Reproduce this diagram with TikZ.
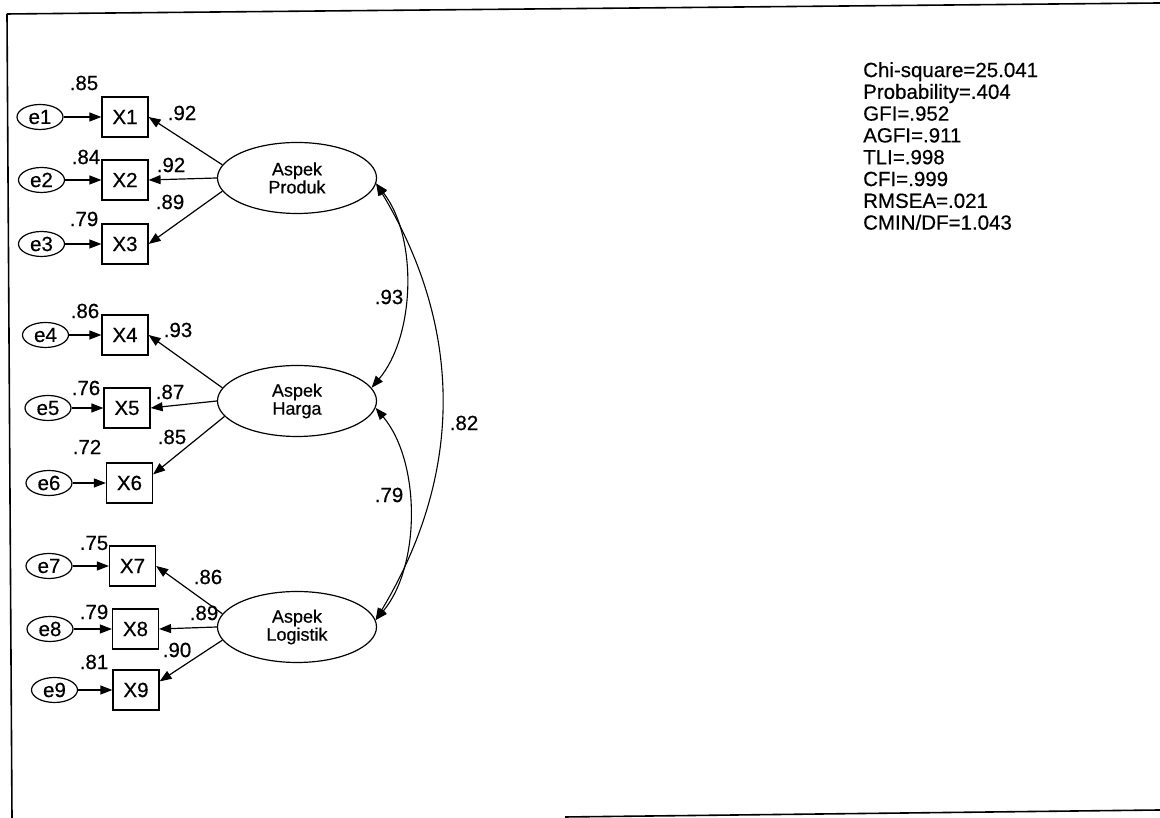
\documentclass[tikz,border=0pt]{standalone}
\usepackage{fontspec}
\setmainfont{Liberation Sans}[FakeBold=0.5]
\usepackage{tikz}
\usetikzlibrary{shapes.geometric,arrows.meta}
\newcommand\lbl{\fontsize{20.5}{21.8}\selectfont}
\newcommand\latfont{\fontsize{18}{18}\selectfont}
\tikzset{
  lat/.style   = {ellipse, draw, line width=1.2pt, minimum width=159pt, minimum height=71pt,
                  inner sep=0pt, align=center, font=\latfont},
  obs/.style   = {rectangle, draw, line width=1.2pt, minimum width=46pt, minimum height=40pt,
                  inner sep=0pt, font=\lbl},
  err/.style   = {ellipse, draw, line width=1.2pt, minimum width=46pt, minimum height=25pt,
                  inner sep=0pt, font=\lbl},
  fl/.style    = {-{Triangle[length=12pt,width=9pt]}, line width=1.2pt},
  cov/.style   = {{Triangle[length=12pt,width=9pt]}-{Triangle[length=12pt,width=9pt]}, line width=1.1pt},
  lab/.style   = {inner sep=0pt, font=\lbl},
  stat/.style  = {anchor=north west, align=left, inner sep=0pt, font=\lbl},
  frame/.style = {line width=1.6pt},
}

\begin{document}
\begin{tikzpicture}[x=1pt, y=1pt]
  \useasboundingbox (0,0) rectangle (1160,818);
  % scanned page border
  \draw[frame] (7,804) -- (1160,815);
  \draw[frame] (7,804) -- (12,0);
  \draw[frame] (565,1) -- (1160,8);

  % latent constructs
  \node[lat] (prod)  at (297,640) {Aspek\\Produk};
  \node[lat] (harga) at (297,417) {Aspek\\Harga};
  \node[lat] (logis) at (297,191) {Aspek\\Logistik};

  % indicators
  \node[obs] (x1) at (125,701)   {X1};
  \node[obs] (x2) at (125,638)   {X2};
  \node[obs] (x3) at (125,574)   {X3};
  \node[obs] (x4) at (125,483)   {X4};
  \node[obs] (x5) at (127,410)   {X5};
  \node[obs] (x6) at (129.5,335) {X6};
  \node[obs] (x7) at (132.5,252) {X7};
  \node[obs] (x8) at (135.5,189) {X8};
  \node[obs] (x9) at (136,128)   {X9};

  % error terms
  \node[err] (e1) at (40,701)   {e1};
  \node[err] (e2) at (41.5,638) {e2};
  \node[err] (e3) at (41.5,574) {e3};
  \node[err] (e4) at (45.5,483) {e4};
  \node[err] (e5) at (48,410)   {e5};
  \node[err] (e6) at (49,335)   {e6};
  \node[err] (e7) at (49,252)   {e7};
  \node[err] (e8) at (50,189)   {e8};
  \node[err] (e9) at (54.5,128) {e9};

  \foreach \i in {1,...,9}
    \draw[fl] (e\i.east) -- (x\i.west);

  % loadings
  \draw[fl] (prod.170)  -- (x1.east);
  \draw[fl] (prod.west) -- (x2.east);
  \draw[fl] (prod.190)  -- (x3.east);
  \draw[fl] (harga.170)  -- (x4.east);
  \draw[fl] (harga.west) -- (x5.east);
  \draw[fl] (harga.192)  -- (x6.20);
  \draw[fl] (logis.170)  -- (x7.east);
  \draw[fl] (logis.west) -- (x8.east);
  \draw[fl] (logis.190)  -- (x9.20);

  % correlations
  \draw[cov] (prod.-4)  to[out=-52, in=50, looseness=0.85] (harga.10);
  \draw[cov] (harga.-5) to[out=-50, in=50, looseness=0.85] (logis.5);
  \draw[cov] (prod.-4)  to[out=-59, in=59] (logis.5);

  % squared multiple correlations
  \node[lab] (r1) at (84,735) {.85};
  \node[lab] (r2) at (86,661) {.84};
  \node[lab] (r3) at (84,599) {.79};
  \node[lab] (r4) at (85,507) {.86};
  \node[lab] (r5) at (86,430) {.76};
  \node[lab] (r6) at (87,371) {.72};
  \node[lab] (r7) at (94,275) {.75};
  \node[lab] (r8) at (94,206) {.79};
  \node[lab] (r9) at (94,156) {.81};

  % loading values
  \node[lab] (w1) at (182,705) {.92};
  \node[lab] (w2) at (171,653) {.92};
  \node[lab] (w3) at (170,616) {.89};
  \node[lab] (w4) at (178,488) {.93};
  \node[lab] (w5) at (170,426) {.87};
  \node[lab] (w6) at (172,381) {.85};
  \node[lab] (w7) at (208,241) {.86};
  \node[lab] (w8) at (204,205) {.89};
  \node[lab] (w9) at (177,168) {.90};

  % correlation values
  \node[lab] (c1) at (389,521) {.93};
  \node[lab] (c2) at (389,323) {.79};
  \node[lab] (c3) at (464,395) {.82};

  \node[stat] (fitidx) at (863,756) {Chi-square=25.041\\Probability=.404\\GFI=.952\\AGFI=.911\\TLI=.998\\CFI=.999\\RMSEA=.021\\CMIN/DF=1.043};
\end{tikzpicture}
\end{document}
